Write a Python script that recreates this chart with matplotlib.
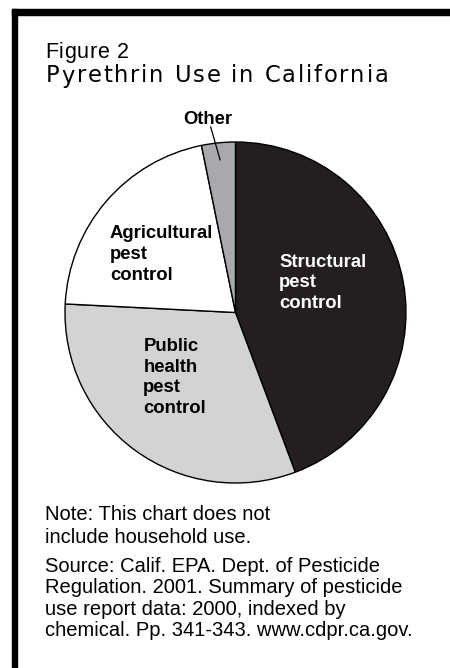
import matplotlib
matplotlib.use('Agg')
import matplotlib.pyplot as plt
import numpy as np
from matplotlib.font_manager import FontProperties, findfont, get_font
from matplotlib.patches import Rectangle
from matplotlib.lines import Line2D

# ---- data ----
categories = ['Structural\npest\ncontrol', 'Public\nhealth\npest\ncontrol',
              'Agricultural\npest\ncontrol', 'Other']
shares = [44.3, 31.5, 21.0, 3.2]
colors = ['#231f20', '#d1d3d4', '#ffffff', '#a7a9ac']
label_colors = ['white', 'black', 'black', 'black']
fig_label = 'Figure 2'
title = 'Pyrethrin Use in California'
note_lines = ['Note: This chart does not', 'include household use.']
source_lines = ['Source: Calif. EPA. Dept. of Pesticide',
                'Regulation. 2001. Summary of pesticide',
                'use report data: 2000, indexed by',
                'chemical. Pp. 341-343. www.cdpr.ca.gov.']

W, H = 450, 668
DPI = 100
fig = plt.figure(figsize=(W / DPI, H / DPI), dpi=DPI)
fig.patch.set_facecolor('white')


def fx(x):
    return x / W


def fy(y):
    return 1 - y / H


FAM = 'Liberation Sans'

# frame (left and top black bars)
fig.patches.append(Rectangle((fx(12), fy(668)), fx(17.3) - fx(12), fy(9) - fy(668),
                             transform=fig.transFigure, color='black', zorder=0))
fig.patches.append(Rectangle((fx(12), fy(14.5)), fx(450) - fx(12), fy(9) - fy(14.5),
                             transform=fig.transFigure, color='black', zorder=0))


def tracked_text(x, y, s, size, track, family=FAM, weight='normal'):
    prop = FontProperties(family=family, size=size, weight=weight)
    font = get_font(findfont(prop))
    font.set_size(size, DPI)
    for ch in s:
        fig.text(fx(x), fy(y), ch, fontproperties=prop, va='baseline', ha='left')
        g = font.load_char(ord(ch))
        x += g.linearHoriAdvance / 65536 + track


tracked_text(45, 58.3, fig_label, 15.5, 0.7)
tracked_text(46, 82.5, title, 16.3, 1.8, family='DejaVu Sans')

# ---- pie ----
cx, cy, R = 235.5, 312.5, 170.5
ax = fig.add_axes([fx(cx - R), fy(cy + R), 2 * R / W, 2 * R / H])
wedges, _ = ax.pie(shares, colors=colors, startangle=90, counterclock=False,
                   wedgeprops=dict(edgecolor='black', linewidth=1.0))
ax.set_xlim(-1, 1)
ax.set_ylim(-1, 1)
ax.set_aspect('equal')
ax.axis('off')

# slice labels (pixel positions of first baseline, line step)
label_pos = [(279, 266.7, 20.7), (143.3, 350.7, 20.9), (110, 238.3, 20.8), (208, 123.5, 0)]
for cat, (lx, ly, step), col in zip(categories, label_pos, label_colors):
    lines = cat.split('\n')
    ha = 'center' if len(lines) == 1 else 'left'
    for i, line in enumerate(lines):
        fig.text(fx(lx), fy(ly + i * step), line, family=FAM, weight='bold',
                 size=13.3, color=col, ha=ha, va='baseline')

# leader line for "Other"
w = wedges[3]
mid = np.deg2rad((w.theta1 + w.theta2) / 2)
ex, ey = 0.9 * np.cos(mid), 0.9 * np.sin(mid)
sx, sy = (210.7 - cx) / R, (cy - 127) / R
ax.add_line(Line2D([sx, ex], [sy, ey], color='black', lw=0.9, clip_on=False))

# ---- notes ----
for i, line in enumerate(note_lines):
    fig.text(fx(45), fy(520 + i * 23.3), line, family=FAM, size=14.5, va='baseline')
for i, line in enumerate(source_lines):
    fig.text(fx(45), fy(572 + i * 21.3), line, family=FAM, size=14.5, va='baseline')

fig.savefig('out.png', dpi=DPI)
